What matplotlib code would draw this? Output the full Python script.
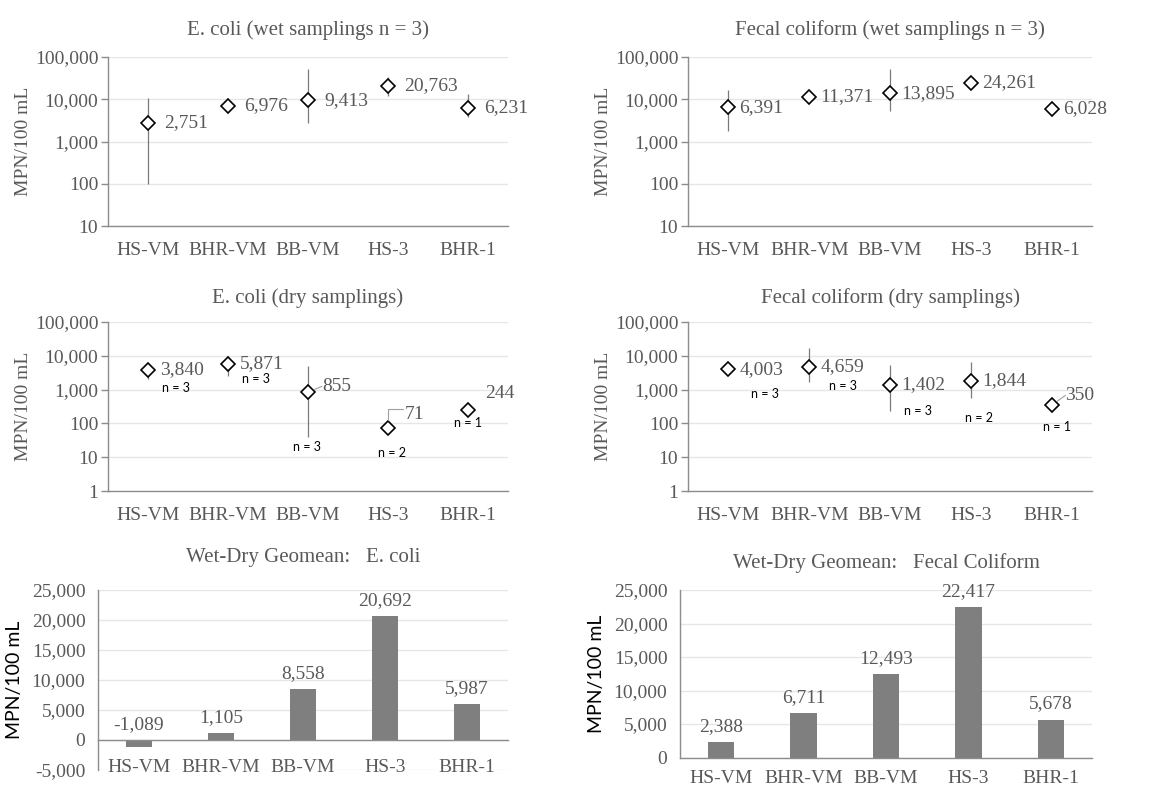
import numpy as np
import matplotlib
matplotlib.use("Agg")
import matplotlib.pyplot as plt
from matplotlib.ticker import FuncFormatter, NullLocator

# ---- data ----
sites = ["HS-VM", "BHR-VM", "BB-VM", "HS-3", "BHR-1"]

ecoli_wet = [2751, 6976, 9413, 20763, 6231]
ecoli_wet_lo = [100, 6976, 2800, 11700, 3900]
ecoli_wet_hi = [10700, 6976, 52600, 33600, 13300]

fecal_wet = [6391, 11371, 13895, 24261, 6028]
fecal_wet_lo = [1730, 11371, 5400, 24261, 6028]
fecal_wet_hi = [16200, 11371, 52600, 24261, 6028]

ecoli_dry = [3840, 5871, 855, 71, 244]
ecoli_dry_lo = [2100, 2550, 40, 55, 244]
ecoli_dry_hi = [4800, 10000, 5000, 90, 244]
ecoli_dry_n = [3, 3, 3, 2, 1]

fecal_dry = [4003, 4659, 1402, 1844, 350]
fecal_dry_lo = [4003, 1700, 240, 560, 350]
fecal_dry_hi = [4003, 17500, 5500, 6400, 350]
fecal_dry_n = [3, 3, 3, 2, 1]

ecoli_diff = [-1089, 1105, 8558, 20692, 5987]
fecal_diff = [2388, 6711, 12493, 22417, 5678]

# ---- style ----
SERIF = "Liberation Serif"
SANS = "Lato"
TXT = "#595959"
AXC = "#8c8c8c"
GRID = "#e6e6e6"
BAR = "#7f7f7f"
FS = 14

plt.rcParams["font.family"] = [SERIF, "DejaVu Serif"]

fig = plt.figure(figsize=(11.55, 7.92), dpi=100)

comma = FuncFormatter(lambda v, p: "{:,.0f}".format(v))


def base_axes(rect, title, tpad, xpad):
    ax = fig.add_axes(rect)
    ax.set_xlim(-0.5, 4.5)
    for s in ["top", "right"]:
        ax.spines[s].set_visible(False)
    for s in ["left", "bottom"]:
        ax.spines[s].set_color(AXC)
        ax.spines[s].set_linewidth(1.0)
    ax.set_xticks(range(len(sites)))
    ax.set_xticklabels(sites)
    ax.tick_params(axis="x", length=0, pad=xpad, labelsize=FS, labelcolor=TXT)
    ax.tick_params(axis="y", labelsize=FS, labelcolor=TXT, color=AXC)
    ax.yaxis.grid(True, color=GRID, lw=1.0)
    ax.set_axisbelow(True)
    ax.set_title(title, fontsize=15, color=TXT, pad=tpad)
    return ax


def log_panel(rect, title, vals, lo, hi, ymin, dx, tpad, ylx,
              nlab=None, noff=None, lab_off=None):
    ax = base_axes(rect, title, tpad, 11.5)
    ax.set_yscale("log")
    ax.set_ylim(ymin, 100000)
    ticks = [10 ** k for k in range(int(np.log10(ymin)), 6)]
    ax.set_yticks(ticks)
    ax.yaxis.set_minor_locator(NullLocator())
    ax.yaxis.set_major_formatter(comma)
    ax.tick_params(axis="y", length=5, width=1.0, direction="out", pad=2)
    x = np.arange(len(vals))
    v = np.array(vals, float)
    err = [v - np.array(lo), np.array(hi) - v]
    ax.errorbar(x, v, yerr=err, fmt="none", ecolor="#7a7a7a", elinewidth=0.9,
                capsize=0, zorder=2)
    ax.plot(x, v, ls="none", marker="D", ms=7.5, mfc="white", mec="black",
            mew=1.2, zorder=3)
    ax.set_ylabel("MPN/100 mL", fontsize=FS, color=TXT)
    ax.yaxis.set_label_coords(ylx, 0.5)
    for i, val in enumerate(vals):
        ox, oy = (dx, 0) if lab_off is None or lab_off[i] is None else lab_off[i]
        ax.annotate("{:,}".format(val), (i, val), xytext=(ox, oy),
                    textcoords="offset points", ha="left", va="center",
                    fontsize=FS, color=TXT)
        if nlab is not None:
            ax.annotate("n = {}".format(nlab[i]), (i, val), xytext=noff[i],
                        textcoords="offset points", ha="center", va="center",
                        fontsize=9, color="black", family=SANS)
    return ax


def bar_panel(rect, title, vals, ylo, tpad, ylx, xpad):
    ax = base_axes(rect, title, tpad, xpad)
    ax.set_ylim(ylo, 25000)
    ax.set_yticks(np.arange(ylo, 25001, 5000))
    ax.yaxis.set_major_formatter(comma)
    ax.tick_params(axis="y", length=0, pad=9)
    ax.spines["bottom"].set_position(("data", 0))
    x = np.arange(len(vals))
    ax.bar(x, vals, width=0.32, color=BAR, zorder=2)
    for i, val in enumerate(vals):
        ax.annotate("{:,}".format(val), (i, max(val, 0)), xytext=(0, 5),
                    textcoords="offset points", ha="center", va="bottom",
                    fontsize=FS, color=TXT)
    ax.set_ylabel("MPN/100 mL", fontsize=14, color="black", family=SANS)
    ax.yaxis.set_label_coords(ylx, 0.5)
    return ax


# top row: wet samplings
log_panel([0.0935, 0.7146, 0.3463, 0.2134], "E. coli (wet samplings n = 3)",
          ecoli_wet, ecoli_wet_lo, ecoli_wet_hi, 10, 11.5, 15.5, -0.19)
log_panel([0.5957, 0.7146, 0.3498, 0.2134], "Fecal coliform (wet samplings n = 3)",
          fecal_wet, fecal_wet_lo, fecal_wet_hi, 10, 8, 15.5, -0.188)

# middle row: dry samplings
ax3 = log_panel([0.0935, 0.380, 0.3463, 0.2134], "E. coli (dry samplings)",
                ecoli_dry, ecoli_dry_lo, ecoli_dry_hi, 1, 8.5, 14, -0.19,
                nlab=ecoli_dry_n,
                noff=[(20, -13), (20, -11), (-1, -40), (3, -18), (0, -9)],
                lab_off=[None, None, (10, 4), (12, 10), (12, 12)])
# leader lines for the offset labels
ax3.annotate("", (2, ecoli_dry[2]), xytext=(10, 4), textcoords="offset points",
             arrowprops=dict(arrowstyle="-", color="#a0a0a0", lw=0.8,
                             shrinkA=0, shrinkB=5))
ax3.annotate("", (3, ecoli_dry[3]), xytext=(11, 14), textcoords="offset points",
             arrowprops=dict(arrowstyle="-", color="#a0a0a0", lw=0.8,
                             connectionstyle="angle,angleA=0,angleB=90,rad=0",
                             shrinkA=0, shrinkB=6))

ax4 = log_panel([0.5957, 0.380, 0.3498, 0.2134], "Fecal coliform (dry samplings)",
                fecal_dry, fecal_dry_lo, fecal_dry_hi, 1, 8, 14, -0.188,
                nlab=fecal_dry_n,
                noff=[(26, -18), (24, -14), (20, -19), (6, -27), (4, -16)],
                lab_off=[None, None, None, None, (10, 7)])
ax4.annotate("", (4, fecal_dry[4]), xytext=(10, 7), textcoords="offset points",
             arrowprops=dict(arrowstyle="-", color="#a0a0a0", lw=0.8,
                             shrinkA=0, shrinkB=5))

# bottom row: wet-dry geomean differences
bar_panel([0.0848, 0.0278, 0.3550, 0.2273], "Wet-Dry Geomean:   E. coli",
          ecoli_diff, -5000, 20, -0.183, 14)
bar_panel([0.5887, 0.0435, 0.3567, 0.2115], "Wet-Dry Geomean:   Fecal Coliform",
          fecal_diff, 0, 16, -0.182, 9)

fig.savefig("out.png", dpi=100)
